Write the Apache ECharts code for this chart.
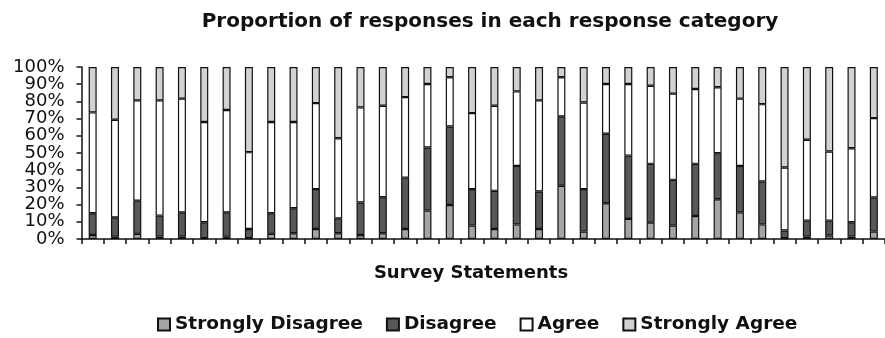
<!DOCTYPE html>
<html>
<head>
<meta charset="utf-8">
<script src="https://cdn.jsdelivr.net/npm/echarts@6/dist/echarts.min.js"></script>
<style>
  html, body { margin: 0; padding: 0; background: #fff; }
  #chart { width: 885px; height: 338px; }
</style>
</head>
<body>
<div id="chart"></div>
<script>
// Survey statements 1..36
const statements = Array.from({ length: 36 }, (_, i) => 'S' + (i + 1));

// Percentage of responses per category, one value per statement
const stronglyDisagree = [2.3, 1.4, 3.0, 1.4, 1.4, 0.5, 1.4, 0.5, 3.0, 3.3, 5.8, 3.3, 2.3, 3.3, 5.8, 16.5, 19.8, 7.8, 5.8, 8.5, 5.8, 31.0, 4.3, 20.8, 11.7, 9.5, 7.8, 13.4, 23.1, 15.5, 8.5, 0.4, 1.4, 2.0, 1.4, 4.3];
const disagree = [12.7, 11.2, 19.3, 12.2, 14.1, 9.2, 14.1, 5.3, 12.0, 14.6, 23.2, 8.7, 18.9, 21.0, 29.9, 36.7, 45.6, 21.2, 22.2, 34.0, 21.8, 40.3, 24.7, 40.4, 36.8, 34.2, 26.6, 30.3, 26.8, 27.0, 24.9, 4.5, 9.3, 8.7, 8.3, 19.8];
const agree = [58.6, 56.7, 58.3, 67.0, 66.1, 58.3, 59.5, 44.7, 53.0, 50.1, 50.0, 46.6, 55.3, 53.2, 46.8, 36.9, 28.6, 44.2, 49.5, 43.3, 53.0, 22.7, 50.4, 28.9, 41.6, 45.4, 50.1, 43.5, 38.3, 39.1, 45.0, 36.7, 47.0, 40.2, 43.1, 46.2];
const stronglyAgree = [26.4, 30.7, 19.4, 19.4, 18.4, 32.0, 25.0, 49.5, 32.0, 32.0, 21.0, 41.4, 23.5, 22.5, 17.5, 9.9, 6.0, 26.8, 22.5, 14.2, 19.4, 6.0, 20.6, 9.9, 9.9, 10.9, 15.5, 12.8, 11.8, 18.4, 21.6, 58.4, 42.3, 49.1, 47.2, 29.7];

const categories = ['Strongly Disagree', 'Disagree', 'Agree', 'Strongly Agree'];
const values = [stronglyDisagree, disagree, agree, stronglyAgree];
const fills = ['#a4a4a4', '#585858', '#ffffff', '#d2d2d2'];

const font = '"DejaVu Sans", Verdana, sans-serif';
const tickLabelStyle = { fontFamily: font, fontSize: 18, color: '#111', margin: 17 };

const chart = echarts.init(document.getElementById('chart'), null, { renderer: 'canvas' });

// The percentage labels sit closer together than their own height, so they are
// split over two coincident axes: even tens on one, odd tens on the other.
chart.setOption({
  animation: false,
  backgroundColor: '#ffffff',
  title: [
    {
      text: 'Proportion of responses in each response category',
      left: 490,
      textAlign: 'center',
      top: 12,
      padding: 0,
      textStyle: { fontFamily: font, fontSize: 20, fontWeight: 'bold', color: '#111' }
    },
    {
      text: 'Survey Statements',
      left: 471,
      textAlign: 'center',
      top: 264,
      padding: 0,
      textStyle: { fontFamily: font, fontSize: 18, fontWeight: 'bold', color: '#111' }
    }
  ],
  legend: {
    left: 157,
    top: 315,
    padding: 0,
    icon: 'rect',
    itemWidth: 12,
    itemHeight: 12,
    itemGap: 23,
    textStyle: { fontFamily: font, fontSize: 18.5, fontWeight: 'bold', color: '#111' },
    data: categories
  },
  grid: { left: 81.5, right: -6.5, top: 67, bottom: 99, containLabel: false },
  xAxis: {
    type: 'category',
    data: statements,
    boundaryGap: true,
    axisLine: { lineStyle: { color: '#111', width: 1.5 } },
    axisTick: { show: true, interval: 0, length: 5, lineStyle: { color: '#111', width: 1.5 } },
    axisLabel: { show: false, interval: 0 },
    splitLine: { show: false }
  },
  yAxis: [
    {
      type: 'value',
      position: 'left',
      min: 0,
      max: 100,
      interval: 10,
      axisLine: { show: true, lineStyle: { color: '#111', width: 1.5 } },
      axisTick: { show: true, length: 5, lineStyle: { color: '#111', width: 1.5 } },
      axisLabel: Object.assign({
        formatter: (v) => (v % 20 === 0 ? v + '%' : ''),
        showMinLabel: true,
        showMaxLabel: true
      }, tickLabelStyle),
      splitLine: { show: false }
    },
    {
      type: 'value',
      position: 'left',
      offset: 0,
      min: 0,
      max: 100,
      interval: 10,
      axisLine: { show: false },
      axisTick: { show: false },
      axisLabel: Object.assign({
        formatter: (v) => (v % 20 === 10 ? v + '%' : ''),
        showMinLabel: false,
        showMaxLabel: false
      }, tickLabelStyle),
      splitLine: { show: false }
    }
  ],
  series: categories.map((name, i) => ({
    name,
    type: 'bar',
    stack: 'total',
    barWidth: 8,
    yAxisIndex: 0,
    data: values[i],
    itemStyle: { color: fills[i], borderColor: '#111', borderWidth: 1.2 }
  }))
});
</script>
</body>
</html>
